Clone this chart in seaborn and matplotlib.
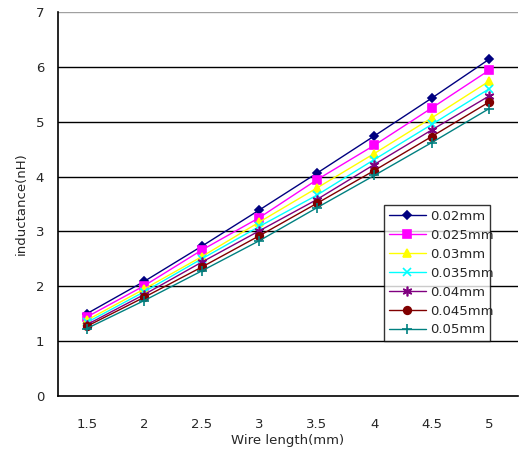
import matplotlib
matplotlib.use("Agg")
import matplotlib.pyplot as plt
import seaborn as sns
import pandas as pd
import numpy as np

sns.set_style("white")
plt.rcParams["font.family"] = ["DejaVu Sans"]

wire_length = ["1.5", "2", "2.5", "3", "3.5", "4", "4.5", "5"]
diameters = ["0.02mm", "0.025mm", "0.03mm", "0.035mm", "0.04mm", "0.045mm", "0.05mm"]

ind_002 = [1.50, 2.09, 2.73, 3.39, 4.06, 4.74, 5.43, 6.14]
ind_0025 = [1.44, 2.01, 2.66, 3.25, 3.94, 4.57, 5.25, 5.94]
ind_003 = [1.38, 1.95, 2.54, 3.17, 3.79, 4.42, 5.07, 5.74]
ind_0035 = [1.34, 1.90, 2.50, 3.09, 3.66, 4.31, 4.95, 5.60]
ind_004 = [1.30, 1.85, 2.44, 3.01, 3.58, 4.22, 4.85, 5.47]
ind_0045 = [1.27, 1.80, 2.35, 2.92, 3.51, 4.11, 4.73, 5.36]
ind_005 = [1.23, 1.74, 2.28, 2.83, 3.43, 4.02, 4.62, 5.24]

series = [ind_002, ind_0025, ind_003, ind_0035, ind_004, ind_0045, ind_005]
colors = ["#000080", "#FF00FF", "#FFFF00", "#00FFFF", "#800080", "#800000", "#008080"]
markers = ["D", "s", "^", "x", (6, 2, 0), "o", "+"]
msizes = [4.5, 5.5, 6, 6, 7, 5.5, 7]

rows = []
for d, vals in zip(diameters, series):
    for i, (w, v) in enumerate(zip(wire_length, vals)):
        rows.append({"pos": i, "length": w, "diameter": d, "inductance": v})
df = pd.DataFrame(rows)

fig = plt.figure(figsize=(5.20, 4.57), dpi=100)
ax = fig.add_axes([58 / 520, 1 - 396 / 457, 460 / 520, 384 / 457])

for d, c, m, ms in zip(diameters, colors, markers, msizes):
    sub = df[df["diameter"] == d]
    sns.lineplot(data=sub, x="pos", y="inductance", ax=ax, color=c, marker=m,
                 markersize=ms, markeredgecolor=c, markerfacecolor=c,
                 markeredgewidth=1.2, linewidth=1.0, label=d)

ax.set_xlim(-0.5, len(wire_length) - 0.5)
ax.set_ylim(0, 7)
ax.set_yticks(range(0, 8))
for yv in range(1, 7):
    ax.axhline(yv, color="black", linewidth=1.0, zorder=0)
ax.axhline(7, color="#a0a0a0", linewidth=1.0, zorder=0)

ax.set_xticks(range(len(wire_length)))
ax.set_xticklabels(wire_length)
ax.set_xticks(np.arange(-0.5, len(wire_length)), minor=True)
ax.tick_params(axis="x", which="major", length=0, pad=16, labelsize=9.5)
ax.tick_params(axis="x", which="minor", length=5, direction="in", width=1, color="black")
ax.tick_params(axis="y", which="major", length=2, direction="out", width=1, color="black",
               labelsize=9.5, pad=8)

for s in ["top", "right"]:
    ax.spines[s].set_visible(False)
for s in ["left", "bottom"]:
    ax.spines[s].set_color("black")
    ax.spines[s].set_linewidth(1.2)

ax.set_xlabel("Wire length(mm)", fontsize=9.5, labelpad=2)
ax.set_ylabel("inductance(nH)", fontsize=9.5, labelpad=6)

leg = ax.legend(loc="lower left", bbox_to_anchor=(0.709, 0.143, 0.23, 0.354), mode="expand",
                frameon=True, fancybox=False, edgecolor="black", fontsize=9.5,
                handlelength=2.8, borderaxespad=0, labelspacing=0.45,
                handletextpad=0.3, borderpad=0.35)
leg.get_frame().set_linewidth(1.0)

fig.savefig("out.png", dpi=100, facecolor="white")
